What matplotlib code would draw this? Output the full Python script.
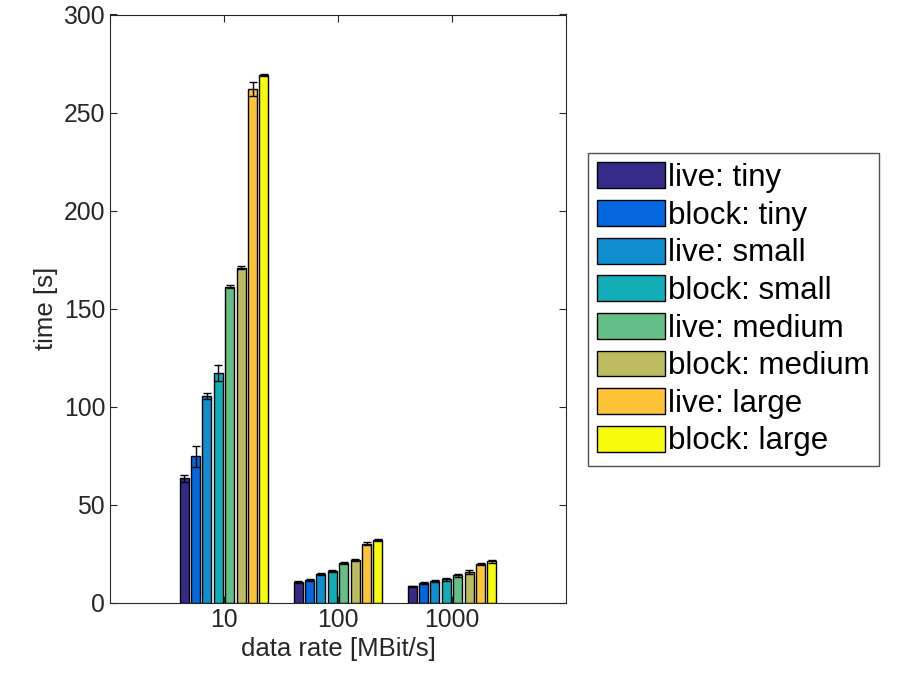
import numpy as np
from matplotlib import pyplot as plt
from matplotlib.patches import Patch

plt.rcParams['font.family'] = ['Liberation Sans', 'DejaVu Sans']

rates = ["10", "100", "1000"]
series = ["live: tiny", "block: tiny", "live: small", "block: small",
          "live: medium", "block: medium", "live: large", "block: large"]
colors = ["#352A87", "#0367E0", "#108ED2", "#12AEB8",
          "#65BE86", "#BEBC60", "#FFC337", "#F9FB0E"]

# rows: series, columns: data rate
means = np.array([
    [63.6, 10.6, 8.5],
    [74.7, 11.8, 10.2],
    [105.6, 14.6, 11.4],
    [117.3, 16.2, 12.1],
    [161.3, 20.3, 14.1],
    [171.0, 22.0, 15.7],
    [262.0, 30.3, 20.1],
    [269.2, 32.2, 21.3],
])
errs = np.array([
    [1.8, 0.4, 0.4],
    [5.4, 0.5, 0.6],
    [1.5, 0.5, 0.5],
    [4.0, 0.6, 0.8],
    [0.6, 0.5, 0.6],
    [0.8, 0.6, 1.0],
    [3.8, 0.6, 0.5],
    [0.5, 0.6, 0.8],
])

fig = plt.figure(figsize=(9.03, 6.84), dpi=100)
ax = fig.add_axes([110 / 903, 1 - 603 / 684, 456 / 903, 588.5 / 684])

x = np.arange(1, len(rates) + 1)
step = 0.1
width = 0.08
for i, (name, c) in enumerate(zip(series, colors)):
    pos = x + (i - 3.5) * step
    ax.bar(pos, means[i], width, color=c, edgecolor="black", linewidth=1.0, label=name)
    ax.errorbar(pos, means[i], yerr=errs[i], fmt="none", ecolor="black",
                elinewidth=1.0, capsize=3, capthick=1.0)

ax.set_xlim(0, 4)
ax.set_ylim(0, 300)
ax.set_xticks(x)
ax.set_xticklabels(rates)
ax.set_yticks(np.arange(0, 301, 50))
ax.tick_params(direction="in", top=True, right=True, labelsize=17.8, length=5,
               colors="#262626")
for s in ax.spines.values():
    s.set_color("#262626")
ax.set_xlabel("data rate [MBit/s]", fontsize=18.5, color="#262626", labelpad=4)
ax.set_ylabel("time [s]", fontsize=18.5, color="#262626")

handles = [Patch(facecolor=c, edgecolor="black", label=n) for n, c in zip(series, colors)]
leg = fig.legend(handles=handles, loc="upper left", bbox_to_anchor=(588 / 903, 1 - 153 / 684),
                 bbox_transform=fig.transFigure, borderaxespad=0, fontsize=22.5,
                 fancybox=False, edgecolor="#262626", handlelength=2.15,
                 handleheight=0.9, labelspacing=0.22, handletextpad=0.12,
                 borderpad=0.3)
leg.get_frame().set_linewidth(1.0)

fig.savefig("out.png", dpi=100)
